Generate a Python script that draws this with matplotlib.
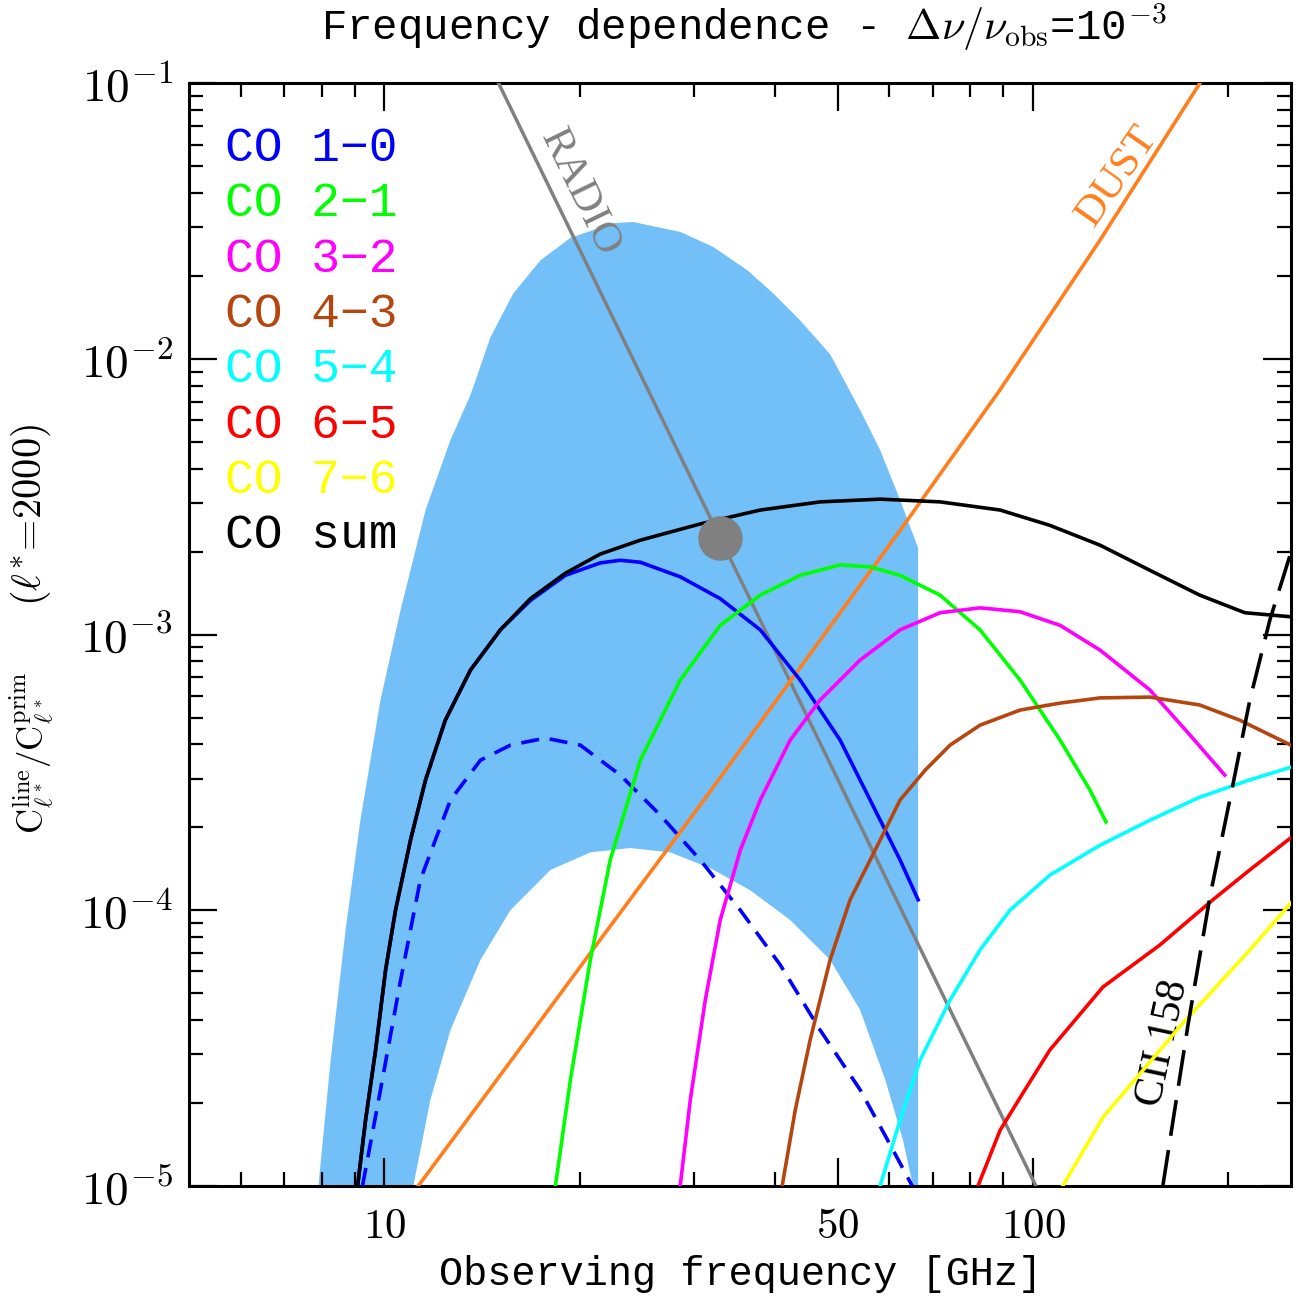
import matplotlib
matplotlib.use("Agg")
import matplotlib.pyplot as plt
from matplotlib.ticker import FixedLocator, NullFormatter, LogLocator

plt.rcParams['mathtext.fontset'] = 'cm'

#----------------------DATA (frequency in GHz, C_l ratio)------------------------
band_outer_freq = [7.91, 8.26, 8.71, 9.18, 9.86, 10.59, 11.57, 12.64, 13.57, 14.57, 15.80, 17.40,
                   19.35, 22.54, 24.19, 28.58, 32.13, 36.26, 39.76, 43.75, 48.66, 54.13, 58.12,
                   62.39, 66.51]
band_outer_cl = [1.0e-5, 2.86e-5, 8.48e-5, 2.12e-4, 5.79e-4, 1.23e-3, 2.83e-3, 5.08e-3, 7.40e-3,
                 1.20e-2, 1.73e-2, 2.28e-2, 2.75e-2, 3.11e-2, 3.14e-2, 2.89e-2, 2.55e-2, 2.10e-2,
                 1.73e-2, 1.38e-2, 1.04e-2, 6.53e-3, 4.67e-3, 3.08e-3, 2.06e-3]
band_inner_freq = [11.08, 11.77, 12.64, 14.06, 15.64, 18.03, 20.77, 23.93, 27.59, 31.80, 36.65,
                   42.23, 48.66, 54.13, 59.2, 63.0, 65.3]
band_inner_cl = [1.0e-5, 2.05e-5, 3.67e-5, 6.60e-5, 1.0e-4, 1.40e-4, 1.62e-4, 1.68e-4, 1.62e-4,
                 1.42e-4, 1.18e-4, 9.21e-5, 6.60e-5, 4.34e-5, 2.42e-5, 1.47e-5, 1.0e-5]

radio_freq = [15.0, 101.0]
radio_cl = [1e-1, 1e-5]
radio_point = (32.9, 2.24e-3)

dust_freq = [11.28, 15.09, 21.5, 30.7, 43.7, 62.4, 88.9, 126.9, 180.8]
dust_cl = [1e-5, 2.52e-5, 7.80e-5, 2.41e-4, 7.56e-4, 2.39e-3, 7.71e-3, 2.70e-2, 1e-1]

co10_freq = [9.09, 9.35, 9.69, 10.04, 10.40, 10.97, 11.57, 12.41, 13.57, 15.09, 16.79, 19.01,
             21.52, 23.10, 24.80, 28.58, 32.94, 37.97, 43.75, 50.42, 56.09, 62.39, 66.51]
co10_cl = [1e-5, 1.73e-5, 3.11e-5, 6.07e-5, 1.0e-4, 1.80e-4, 2.97e-4, 4.89e-4, 7.43e-4, 1.04e-3,
           1.33e-3, 1.64e-3, 1.82e-3, 1.86e-3, 1.83e-3, 1.62e-3, 1.35e-3, 1.04e-3, 6.84e-4,
           4.14e-4, 2.51e-4, 1.52e-4, 1.09e-4]

co10_low_freq = [9.25, 9.86, 10.59, 11.36, 12.64, 14.06, 15.64, 17.70, 20.04, 23.10, 26.63,
                 30.69, 35.37, 40.76, 46.97, 54.13, 60.21, 65.11]
co10_low_cl = [1e-5, 2.23e-5, 5.58e-5, 1.29e-4, 2.51e-4, 3.50e-4, 3.97e-4, 4.21e-4, 3.97e-4,
               3.09e-4, 2.21e-4, 1.52e-4, 1.0e-4, 6.33e-5, 3.67e-5, 2.23e-5, 1.41e-5, 1e-5]

co21_freq = [18.35, 19.35, 20.77, 22.29, 24.80, 28.58, 32.94, 37.97, 43.75, 50.42, 56.09, 62.39,
             71.91, 82.86, 95.50, 110.1, 122.4, 129.6]
co21_cl = [1e-5, 2.42e-5, 6.60e-5, 1.52e-4, 3.50e-4, 6.84e-4, 1.08e-3, 1.39e-3, 1.64e-3, 1.79e-3,
           1.76e-3, 1.64e-3, 1.39e-3, 1.04e-3, 6.84e-4, 4.14e-4, 2.73e-4, 2.09e-4]

co32_freq = [28.58, 29.62, 31.24, 32.94, 35.37, 37.97, 42.23, 46.97, 54.13, 62.39, 71.91, 82.86,
             95.50, 110.1, 126.9, 151.5, 174.6, 197.6]
co32_cl = [1e-5, 2.05e-5, 4.72e-5, 9.21e-5, 1.65e-4, 2.51e-4, 4.14e-4, 5.79e-4, 8.08e-4, 1.04e-3,
           1.20e-3, 1.25e-3, 1.21e-3, 1.08e-3, 8.78e-4, 6.29e-4, 4.32e-4, 3.09e-4]

co43_freq = [41.05, 42.99, 45.33, 48.66, 52.24, 57.09, 62.39, 68.19, 74.50, 82.86, 95.50, 110.1,
             126.9, 151.5, 180.8, 208.4, 249.8]
co43_cl = [1e-5, 1.88e-5, 3.38e-5, 6.60e-5, 1.09e-4, 1.65e-4, 2.51e-4, 3.22e-4, 3.97e-4, 4.69e-4,
           5.32e-4, 5.64e-4, 5.89e-4, 5.93e-4, 5.55e-4, 4.89e-4, 3.97e-4]

co54_freq = [58.12, 62.39, 66.99, 74.50, 82.86, 92.18, 106.2, 126.9, 151.5, 180.8, 216.0, 249.8]
co54_cl = [1e-5, 1.73e-5, 2.86e-5, 4.72e-5, 7.17e-5, 1.0e-4, 1.34e-4, 1.72e-4, 2.12e-4, 2.57e-4,
           2.97e-4, 3.30e-4]

co65_freq = [82.29, 88.99, 97.2, 106.2, 128.2, 156.9, 189.4, 216.0, 249.8]
co65_cl = [1e-5, 1.59e-5, 2.23e-5, 3.11e-5, 5.26e-5, 7.47e-5, 1.09e-4, 1.40e-4, 1.83e-4]

co76_freq = [111.2, 128.2, 170.3, 216.0, 249.8]
co76_cl = [1e-5, 1.77e-5, 3.89e-5, 7.17e-5, 1.06e-4]

cosum_freq = [9.09, 9.35, 9.69, 10.04, 10.40, 10.97, 11.57, 12.41, 13.57, 15.09, 16.79, 19.01,
              21.52, 24.80, 30.69, 37.97, 46.97, 58.12, 71.91, 88.99, 106.2, 126.9, 151.5,
              180.8, 212.2, 249.8]
cosum_cl = [1e-5, 1.73e-5, 3.11e-5, 6.07e-5, 1.0e-4, 1.80e-4, 2.97e-4, 4.89e-4, 7.43e-4, 1.04e-3,
            1.35e-3, 1.67e-3, 1.96e-3, 2.20e-3, 2.52e-3, 2.83e-3, 3.03e-3, 3.10e-3, 3.03e-3,
            2.83e-3, 2.49e-3, 2.11e-3, 1.71e-3, 1.39e-3, 1.20e-3, 1.16e-3]

cii_freq = [158.6, 173.4, 187.4, 203.3, 216.0, 231.9, 249.8]
cii_cl = [1e-5, 3.83e-5, 1.115e-4, 2.84e-4, 5.79e-4, 1.13e-3, 1.98e-3]

legend_labels = ["CO 1\u22120", "CO 2\u22121", "CO 3\u22122", "CO 4\u22123",
                 "CO 5\u22124", "CO 6\u22125", "CO 7\u22126", "CO sum"]
legend_colors = ["#0000ff", "#00ff00", "#ff00ff", "#b5460f", "#00ffff", "#ff0000", "#ffff00", "black"]

#----------------------PLOT------------------------
fig = plt.figure(figsize=(13, 13.07), dpi=100)
ax = fig.add_axes([0.1456, 0.0928, 0.8475, 0.8434])
ax.set_xscale('log')
ax.set_yscale('log')
ax.set_xlim(5, 250)
ax.set_ylim(1e-5, 1e-1)

band_x = band_outer_freq + [band_outer_freq[-1]] + band_inner_freq[::-1]
band_y = band_outer_cl + [1e-5] + band_inner_cl[::-1]
ax.fill(band_x, band_y, color="#73bff8", lw=0, zorder=1)

lw = 2.6
ax.plot(radio_freq, radio_cl, color="#808080", lw=2.5, zorder=3)
ax.plot(dust_freq, dust_cl, color="#ff7f1e", lw=lw, zorder=3)
ax.plot(co10_low_freq, co10_low_cl, color="#0000ff", lw=lw, ls=(0, (5, 3)), zorder=4)
ax.plot(co10_freq, co10_cl, color="#0000ff", lw=lw, zorder=4)
ax.plot(co21_freq, co21_cl, color="#00ff00", lw=lw, zorder=4)
ax.plot(co32_freq, co32_cl, color="#ff00ff", lw=lw, zorder=4)
ax.plot(co43_freq, co43_cl, color="#b5460f", lw=lw, zorder=4)
ax.plot(co54_freq, co54_cl, color="#00ffff", lw=lw, zorder=4)
ax.plot(co65_freq, co65_cl, color="#ff0000", lw=lw, zorder=4)
ax.plot(co76_freq, co76_cl, color="#ffff00", lw=lw, zorder=4)
ax.plot(cosum_freq, cosum_cl, color="black", lw=lw, zorder=5)
ax.plot(cii_freq, cii_cl, color="black", lw=lw, ls=(0, (10, 4)), zorder=5)
ax.plot(*radio_point, 'o', color="#808080", ms=31, zorder=6)

# labels on lines
ax.text(20.0, 4.0e-2, "RADIO", color="#808080", rotation=-64, fontsize=31,
        family="Liberation Serif", ha='center', va='center')
ax.text(135, 4.6e-2, "DUST", color="#ff7f1e", rotation=55, fontsize=31,
        family="Liberation Serif", ha='center', va='center')
ax.text(159, 3.3e-5, "CII 158", color="black", rotation=78, fontsize=30,
        family="Liberation Serif", ha='center', va='center')

for i, (lab, col) in enumerate(zip(legend_labels, legend_colors)):
    ax.text(0.032, 0.941 - i * 0.0502, lab, color=col, fontsize=34.5,
            family="Liberation Mono", transform=ax.transAxes, ha='left', va='center')

# axes style
for sp in ax.spines.values():
    sp.set_linewidth(2.2)
ax.xaxis.set_major_locator(FixedLocator([10, 50, 100]))
ax.xaxis.set_minor_locator(FixedLocator([6, 7, 8, 9, 20, 30, 40, 60, 70, 80, 90, 200]))
ax.set_xticklabels(["$10$", "$50$", "$100$"])
ax.xaxis.set_minor_formatter(NullFormatter())
ax.yaxis.set_major_locator(FixedLocator([1e-5, 1e-4, 1e-3, 1e-2, 1e-1]))
ax.set_yticklabels(["$10^{-5}$", "$10^{-4}$", "$10^{-3}$", "$10^{-2}$", "$10^{-1}$"])
ax.yaxis.set_minor_locator(LogLocator(base=10, subs=range(2, 10)))
ax.yaxis.set_minor_formatter(NullFormatter())
ax.tick_params(which='both', direction='in', top=True, right=True)
ax.tick_params(axis='x', labelsize=31)
ax.tick_params(axis='y', labelsize=34)
ax.tick_params(which='major', length=20, width=1.6)
ax.tick_params(which='minor', length=10, width=1.6)
ax.tick_params(axis='x', which='major', pad=14)
ax.tick_params(axis='y', which='major', pad=12)

ax.set_xlabel("Observing frequency [GHz]", family="Liberation Mono", fontsize=29, labelpad=6)
fig.text(0.572, 0.979, r"Frequency dependence - $\Delta\nu/\nu_{\rm obs}$=10$^{-3}$",
         family="Liberation Mono", fontsize=30.5, ha='center', va='center')
fig.text(0.024, 0.424, r"$\mathrm{C}_{\ell^*}^{\rm line}/\mathrm{C}_{\ell^*}^{\rm prim}$",
         fontsize=25, rotation=90, ha='center', va='center')
fig.text(0.024, 0.606, r"$(\ell^{*}\!=\!2000)$", fontsize=29, rotation=90, ha='center', va='center')

fig.savefig("out.png", dpi=100)
